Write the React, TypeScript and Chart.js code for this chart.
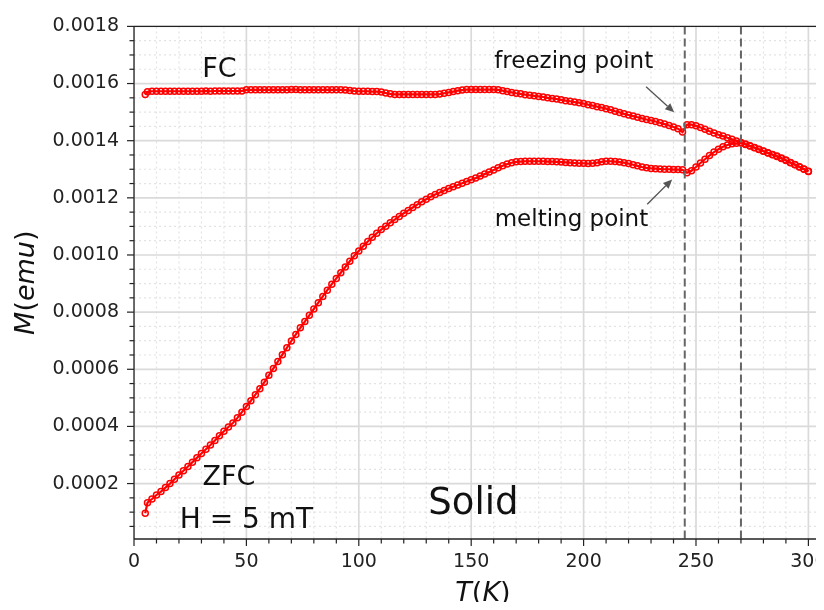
import React, { useEffect, useRef } from "react";
import { Chart, registerables } from "chart.js";

Chart.register(...registerables);

// ---------------- data ----------------
// Temperature (K)
const temperatureK = [
  5, 6, 8,
  10, 12, 14, 16, 18,
  20, 22, 24, 26, 28,
  30, 32, 34, 36, 38,
  40, 42, 44, 46, 48,
  50, 52, 54, 56, 58,
  60, 62, 64, 66, 68,
  70, 72, 74, 76, 78,
  80, 82, 84, 86, 88,
  90, 92, 94, 96, 98,
  100, 102, 104, 106, 108,
  110, 112, 114, 116, 118,
  120, 122, 124, 126, 128,
  130, 132, 134, 136, 138,
  140, 142, 144, 146, 148,
  150, 152, 154, 156, 158,
  160, 162, 164, 166, 168,
  170, 172, 174, 176, 178,
  180, 182, 184, 186, 188,
  190, 192, 194, 196, 198,
  200, 202, 204, 206, 208,
  210, 212, 214, 216, 218,
  220, 222, 224, 226, 228,
  230, 232, 234, 236, 238,
  240, 242, 244, 246, 248,
  250, 252, 254, 256, 258,
  260, 262, 264, 266, 268,
  270, 272, 274, 276, 278,
  280, 282, 284, 286, 288,
  290, 292, 294, 296, 298,
  300,
];

// ZFC magnetisation, in units of 1e-4 emu
const zfcMomentE4 = [
  0.96, 1.33, 1.46,
  1.60, 1.72, 1.86, 2.00, 2.15,
  2.30, 2.45, 2.60, 2.75, 2.90,
  3.05, 3.20, 3.35, 3.51, 3.67,
  3.83, 3.98, 4.12, 4.30, 4.50,
  4.70, 4.90, 5.11, 5.32, 5.55,
  5.79, 6.03, 6.27, 6.51, 6.75,
  6.99, 7.22, 7.45, 7.67, 7.89,
  8.11, 8.33, 8.55, 8.77, 8.98,
  9.18, 9.38, 9.58, 9.78, 9.97,
  10.14, 10.31, 10.47, 10.62, 10.76,
  10.89, 11.01, 11.13, 11.24, 11.35,
  11.46, 11.56, 11.66, 11.76, 11.86,
  11.95, 12.04, 12.12, 12.19, 12.26,
  12.33, 12.39, 12.45, 12.51, 12.57,
  12.63, 12.69, 12.76, 12.83, 12.90,
  12.97, 13.05, 13.12, 13.18, 13.23,
  13.26, 13.27, 13.28, 13.28, 13.28,
  13.28, 13.28, 13.27, 13.27, 13.26,
  13.25, 13.24, 13.23, 13.22, 13.21,
  13.21, 13.20, 13.21, 13.23, 13.26,
  13.28, 13.28, 13.27, 13.25, 13.23,
  13.20, 13.16, 13.12, 13.08, 13.05,
  13.03, 13.02, 13.01, 13.00, 13.00,
  12.99, 12.99, 12.98, 12.88, 12.95,
  13.08, 13.22, 13.35, 13.48, 13.60,
  13.70, 13.79, 13.85, 13.89, 13.91,
  13.92, 13.87, 13.81, 13.75, 13.69,
  13.63, 13.57, 13.51, 13.45, 13.38,
  13.31, 13.23, 13.16, 13.08, 13.00,
  12.92,
];

// FC magnetisation, in units of 1e-4 emu
const fcMomentE4 = [
  15.62, 15.71, 15.73,
  15.73, 15.73, 15.73, 15.73, 15.73,
  15.73, 15.73, 15.73, 15.73, 15.73,
  15.73, 15.74, 15.73, 15.74, 15.74,
  15.74, 15.74, 15.74, 15.74, 15.74,
  15.78, 15.78, 15.78, 15.78, 15.78,
  15.78, 15.78, 15.78, 15.78, 15.78,
  15.79, 15.79, 15.78, 15.78, 15.78,
  15.78, 15.78, 15.78, 15.78, 15.78,
  15.78, 15.78, 15.77, 15.76, 15.74,
  15.73, 15.73, 15.73, 15.72, 15.72,
  15.70, 15.67, 15.64, 15.62, 15.62,
  15.62, 15.62, 15.62, 15.62, 15.62,
  15.62, 15.62, 15.62, 15.63, 15.66,
  15.69, 15.72, 15.75, 15.77, 15.79,
  15.79, 15.79, 15.79, 15.79, 15.79,
  15.79, 15.78, 15.75, 15.72, 15.69,
  15.66, 15.64, 15.61, 15.59, 15.57,
  15.55, 15.53, 15.50, 15.48, 15.46,
  15.43, 15.40, 15.38, 15.35, 15.33,
  15.30, 15.26, 15.23, 15.19, 15.16,
  15.12, 15.08, 15.03, 14.99, 14.94,
  14.90, 14.86, 14.82, 14.78, 14.74,
  14.71, 14.67, 14.63, 14.58, 14.53,
  14.48, 14.42, 14.30, 14.56, 14.56,
  14.52, 14.46, 14.40, 14.33, 14.27,
  14.21, 14.16, 14.10, 14.05, 13.99,
  13.94, 13.88, 13.82, 13.76, 13.70,
  13.64, 13.58, 13.52, 13.46, 13.39,
  13.32, 13.24, 13.17, 13.09, 13.01,
  12.93,
];

// axis ranges / ticks
const xMin = 0;
const xMax = 310.5;
const yMin = 0.000006;
const yMax = 0.0018;
const xMajorStep = 50;
const xMinorStep = 10;
const yMajorStep = 0.0002;
const yMinorStep = 0.00005;

// vertical transition markers (K)
const transitionTemps = [245, 270];

// text annotations (data coordinates, baseline-centred)
const annotationTexts = ["FC", "freezing point", "melting point", "ZFC", "H = 5 mT", "Solid"];
const annotationT = [38.0, 195.6, 194.6, 42.2, 50.05, 151.0];
const annotationM = [0.0016237, 0.0016548, 0.0011018, 0.0001944, 0.000043, 0.0000941];
const annotationSize = [27, 23, 23, 27, 28, 37];

// arrows: [tailT, tailM, headT, headM]
const arrowFreezing = [227.8, 0.0015891, 240.3, 0.0014993];
const arrowMelting = [228.3, 0.0011778, 239.4, 0.0012642];

const FONT = "'DejaVu Sans', sans-serif";
const RED = "#ff0000";

function seg(ctx: CanvasRenderingContext2D, x1: number, y1: number, x2: number, y2: number) {
  ctx.beginPath();
  ctx.moveTo(x1, y1);
  ctx.lineTo(x2, y2);
  ctx.stroke();
}

function drawMixed(
  ctx: CanvasRenderingContext2D,
  parts: [string, boolean][],
  cx: number,
  baseline: number,
  size: number
) {
  const fonts = parts.map(([, it]) => `${it ? "italic " : ""}${size}px ${FONT}`);
  let total = 0;
  const widths = parts.map(([t], i) => {
    ctx.font = fonts[i];
    const w = ctx.measureText(t).width;
    total += w;
    return w;
  });
  let x = cx - total / 2;
  ctx.textAlign = "left";
  ctx.textBaseline = "alphabetic";
  parts.forEach(([t], i) => {
    ctx.font = fonts[i];
    ctx.fillText(t, x, baseline);
    x += widths[i];
  });
}

function drawArrow(ctx: CanvasRenderingContext2D, xs: any, ys: any, a: number[]) {
  const x1 = xs.getPixelForValue(a[0]);
  const y1 = ys.getPixelForValue(a[1]);
  const x2 = xs.getPixelForValue(a[2]);
  const y2 = ys.getPixelForValue(a[3]);
  const ang = Math.atan2(y2 - y1, x2 - x1);
  const hl = 9;
  const hw = 4;
  const bx = x2 - hl * Math.cos(ang);
  const by = y2 - hl * Math.sin(ang);
  ctx.strokeStyle = "#555555";
  ctx.fillStyle = "#555555";
  ctx.lineWidth = 1.3;
  seg(ctx, x1, y1, bx, by);
  ctx.beginPath();
  ctx.moveTo(x2, y2);
  ctx.lineTo(bx + hw * Math.sin(ang), by - hw * Math.cos(ang));
  ctx.lineTo(bx - hw * Math.sin(ang), by + hw * Math.cos(ang));
  ctx.closePath();
  ctx.fill();
}

const decorPlugin = {
  id: "decor",
  beforeDatasetsDraw(chart: any) {
    const { ctx, chartArea: a } = chart;
    const xs = chart.scales.x;
    const ys = chart.scales.y;
    ctx.save();
    ctx.beginPath();
    ctx.rect(a.left, a.top, a.right - a.left, a.bottom - a.top);
    ctx.clip();
    // minor grid (dotted)
    ctx.strokeStyle = "#e3e3e3";
    ctx.lineWidth = 1.2;
    ctx.setLineDash([2, 3]);
    for (let i = 1; i * xMinorStep <= xMax; i++) {
      if ((i * xMinorStep) % xMajorStep === 0) continue;
      const px = xs.getPixelForValue(i * xMinorStep);
      seg(ctx, px, a.top, px, a.bottom);
    }
    const nY = Math.round(yMax / yMinorStep);
    for (let i = 1; i <= nY; i++) {
      if (i % 4 === 0) continue;
      const py = ys.getPixelForValue(i * yMinorStep);
      seg(ctx, a.left, py, a.right, py);
    }
    // major grid
    ctx.setLineDash([]);
    ctx.strokeStyle = "#dadada";
    ctx.lineWidth = 1.7;
    xs.ticks.forEach((t: any) => {
      const px = xs.getPixelForValue(t.value);
      seg(ctx, px, a.top, px, a.bottom);
    });
    ys.ticks.forEach((t: any) => {
      const py = ys.getPixelForValue(t.value);
      seg(ctx, a.left, py, a.right, py);
    });
    ctx.restore();
  },
  afterDatasetsDraw(chart: any) {
    const { ctx, chartArea: a } = chart;
    const xs = chart.scales.x;
    const ys = chart.scales.y;
    ctx.save();

    // dashed transition lines
    ctx.strokeStyle = "#666666";
    ctx.lineWidth = 2;
    ctx.setLineDash([8, 4]);
    transitionTemps.forEach((t) => {
      const px = xs.getPixelForValue(t);
      seg(ctx, px, a.top, px, a.bottom);
    });
    ctx.setLineDash([]);

    // spines
    ctx.strokeStyle = "#222222";
    ctx.lineWidth = 1.3;
    seg(ctx, a.left, a.top, a.left, a.bottom);
    seg(ctx, a.left, a.bottom, a.right + 10, a.bottom);
    seg(ctx, a.left, a.top, a.right + 10, a.top);

    // ticks
    ctx.lineWidth = 1.2;
    for (let i = 0; i * xMinorStep <= xMax; i++) {
      const v = i * xMinorStep;
      const major = v % xMajorStep === 0;
      const px = xs.getPixelForValue(v);
      seg(ctx, px, a.bottom, px, a.bottom + (major ? 7 : 4.5));
    }
    const nY = Math.round(yMax / yMinorStep);
    for (let i = 1; i <= nY; i++) {
      const major = i % 4 === 0;
      const py = ys.getPixelForValue(i * yMinorStep);
      seg(ctx, a.left, py, a.left - (major ? 7 : 4.5), py);
    }

    // arrows
    drawArrow(ctx, xs, ys, arrowFreezing);
    drawArrow(ctx, xs, ys, arrowMelting);

    // annotation texts
    ctx.fillStyle = "#111111";
    ctx.textAlign = "center";
    ctx.textBaseline = "alphabetic";
    annotationTexts.forEach((t, i) => {
      ctx.font = `${annotationSize[i]}px ${FONT}`;
      ctx.fillText(t, xs.getPixelForValue(annotationT[i]), ys.getPixelForValue(annotationM[i]));
    });

    // axis titles
    ctx.fillStyle = "#111111";
    drawMixed(
      ctx,
      [["T", true], ["(", false], ["K", true], [")", false]],
      (a.left + a.right) / 2,
      601,
      27
    );
    ctx.save();
    ctx.translate(34, (a.top + a.bottom) / 2);
    ctx.rotate(-Math.PI / 2);
    drawMixed(
      ctx,
      [["M", true], ["(", false], ["emu", true], [")", false]],
      0,
      0,
      27
    );
    ctx.restore();

    ctx.restore();
  },
};

export default function App() {
  const canvasRef = useRef<HTMLCanvasElement | null>(null);

  useEffect(() => {
    const canvas = canvasRef.current;
    if (!canvas) return;
    document.body.style.overflow = "hidden";
    const mk = (vals: number[]) => temperatureK.map((t, i) => ({ x: t, y: vals[i] * 1e-4 }));
    const dsStyle = {
      showLine: true,
      borderColor: RED,
      borderWidth: 2.2,
      pointRadius: 3,
      pointBorderWidth: 1.5,
      pointBorderColor: RED,
      pointBackgroundColor: "rgba(0,0,0,0)",
      pointStyle: "circle",
      tension: 0,
    };
    const chart = new Chart(canvas, {
      type: "scatter",
      data: {
        datasets: [
          { label: "ZFC", data: mk(zfcMomentE4), ...dsStyle } as any,
          { label: "FC", data: mk(fcMomentE4), ...dsStyle } as any,
        ],
      },
      options: {
        responsive: false,
        maintainAspectRatio: false,
        animation: false,
        devicePixelRatio: 1,
        events: [],
        layout: { padding: { top: 20, right: 8, bottom: 0, left: 0 } },
        plugins: { legend: { display: false }, tooltip: { enabled: false } },
        scales: {
          x: {
            type: "linear",
            min: xMin,
            max: xMax,
            afterFit: (s: any) => {
              s.height = 71;
            },
            grid: { display: false, drawTicks: false },
            border: { display: false },
            ticks: {
              stepSize: xMajorStep,
              includeBounds: false,
              autoSkip: false,
              maxRotation: 0,
              padding: 12,
              color: "#222222",
              font: { family: FONT, size: 19 },
              callback: (v: any) => String(v),
            },
          },
          y: {
            type: "linear",
            min: yMin,
            max: yMax,
            afterFit: (s: any) => {
              s.width = 134;
            },
            grid: { display: false, drawTicks: false },
            border: { display: false },
            ticks: {
              stepSize: yMajorStep,
              includeBounds: false,
              autoSkip: false,
              padding: 15,
              color: "#222222",
              font: { family: FONT, size: 19 },
              callback: (v: any) => Number(v).toFixed(4),
            },
          },
        } as any,
      },
      plugins: [decorPlugin],
    });
    return () => chart.destroy();
  }, []);

  return (
    <div style={{ margin: -8, width: 824, height: 610, overflow: "hidden", background: "#ffffff" }}>
      <canvas ref={canvasRef} width={840} height={610} style={{ display: "block", width: 840, height: 610 }} />
    </div>
  );
}
